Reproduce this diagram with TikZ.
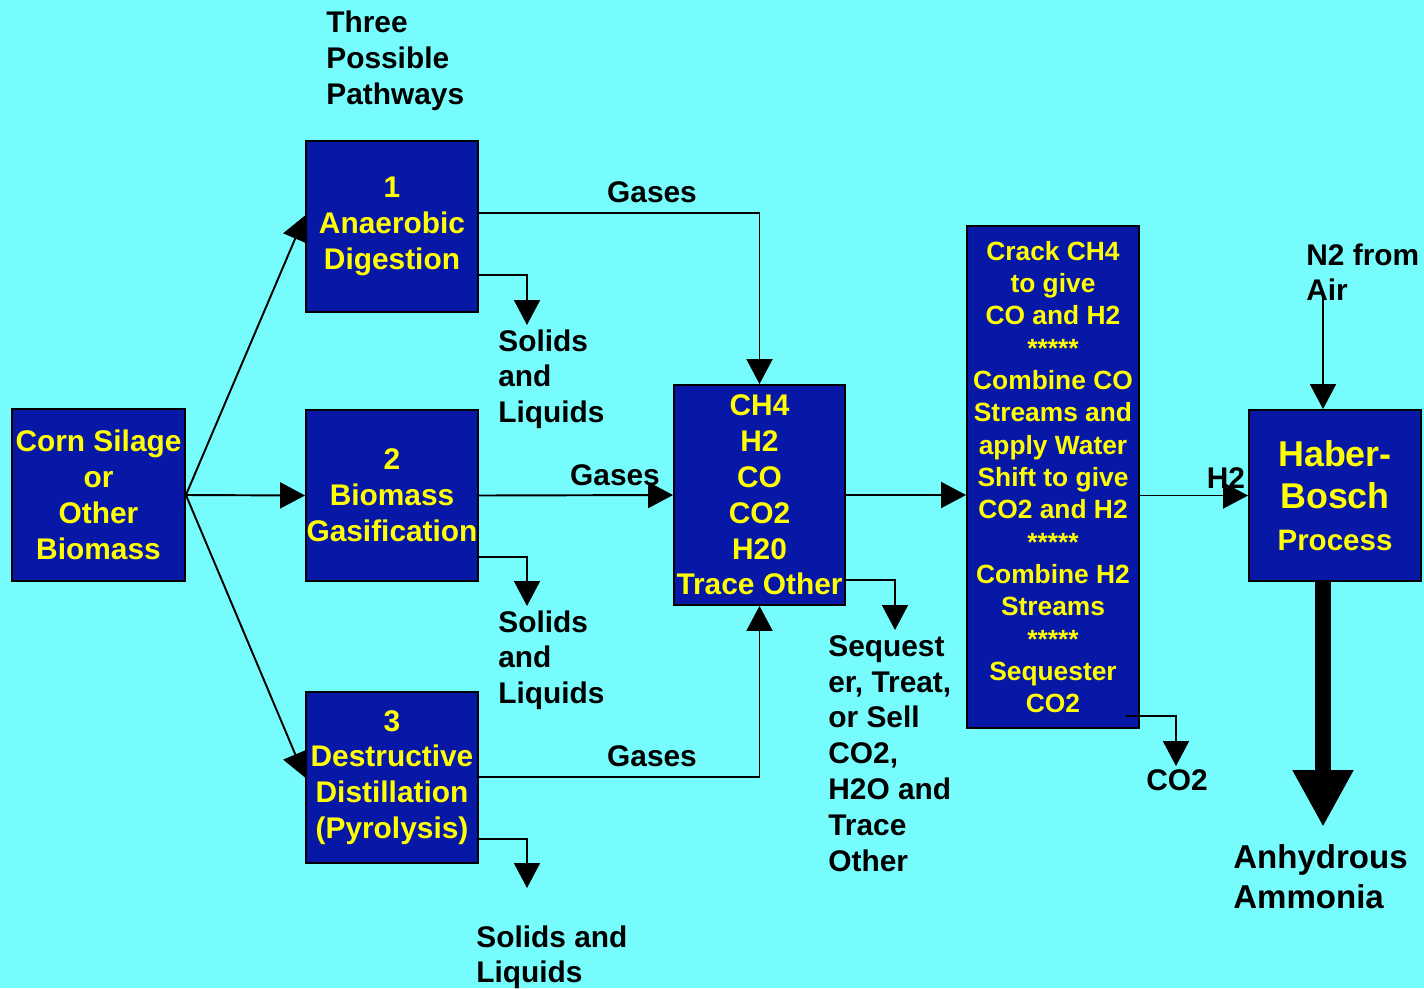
\documentclass[tikz,border=0pt]{standalone}
\usepackage{fontspec}
\setmainfont{Liberation Sans}
\usetikzlibrary{arrows.meta,calc}
\definecolor{bgcyan}{RGB}{118,252,252}
\definecolor{boxblue}{RGB}{8,24,166}
\definecolor{boxtext}{RGB}{255,255,0}
\tikzset{
	stage/.style={draw=black, line width=1.1pt, fill=boxblue, text=boxtext, align=center, inner sep=0pt,
		font=\bfseries\fontsize{17}{20.4}\selectfont, minimum width=3.44cm, minimum height=3.42cm},
	lbl/.style={font=\bfseries\fontsize{17}{20.4}\selectfont, align=left, inner sep=0pt, anchor=north west},
	flow/.style={line width=1.1pt, -{Triangle[length=0.5cm,width=0.52cm]}},
	bigflow/.style={line width=0.32cm, -{Triangle[length=1.14cm,width=1.14cm]}},
}

\begin{document}
\begin{tikzpicture}[x=0.02cm, y=-0.02cm]
		%%%%% START %%%%%
		
		\fill[bgcyan] (0, 0) rectangle (1424, 988);
		\useasboundingbox (0, 0) rectangle (1424, 988);
		
		\node[stage, minimum width=3.46cm, minimum height=3.44cm] (corn) at (98.5, 495) {Corn Silage\\or\\Other\\Biomass};
		\node[stage] (anaer) at (392, 226.5) {1\\Anaerobic\\Digestion};
		\node[stage] (gasif) at (392, 495.5) {2\\Biomass\\Gasification};
		\node[stage] (pyro) at (392, 777.5) {3\\Destructive\\Distillation\\(Pyrolysis)};
		\node[stage, minimum width=3.42cm, minimum height=4.4cm] (mix) at (759.5, 495) {CH4\\H2\\CO\\CO2\\H20\\Trace Other};
		\node[stage, minimum height=10.04cm, font=\bfseries\fontsize{15}{18.4}\selectfont] (crack) at (1053, 477)
			{Crack CH4\\to give\\CO and H2\\*****\\Combine CO\\Streams and\\apply Water\\Shift to give\\CO2 and H2\\*****\\Combine H2\\Streams\\*****\\Sequester\\CO2};
		\node[stage, font=\bfseries\fontsize{20.4}{24}\selectfont] (haber) at (1335, 495.5)
			{Haber-\\Bosch\\{\fontsize{16.8}{20}\selectfont Process}};
		
		\node[lbl] (three) at (326, 11) {Three\\Possible\\Pathways};
		\node[lbl, anchor=center] (gas1) at (652, 192) {Gases};
		\node[lbl, anchor=center] (gas2) at (615, 475) {Gases};
		\node[lbl, anchor=center] (gas3) at (652, 756) {Gases};
		\node[lbl] (sol1) at (498, 329) {Solids\\and\\Liquids};
		\node[lbl] (sol2) at (498, 610) {Solids\\and\\Liquids};
		\node[lbl] (sol3) at (476, 925) {Solids and\\Liquids};
		\node[lbl] (seq) at (828, 635) {Sequest\\er, Treat,\\or Sell\\CO2,\\H2O and\\Trace\\Other};
		\node[lbl] (ntwo) at (1306, 243) {N2 from\\Air};
		\node[lbl, anchor=center] (htwo) at (1226, 478) {H2};
		\node[lbl, anchor=center] (cotwo) at (1177, 780) {CO2};
		\node[lbl, font=\bfseries\fontsize{18.8}{22.7}\selectfont] (ammo) at (1233, 844) {Anhydrous\\Ammonia};
		
		\coordinate (s1) at (527, 325);
		\coordinate (s2) at (527, 606);
		\coordinate (s3) at (527, 888);
		\coordinate (tr) at (895, 630);
		\coordinate (c0) at (1126, 716);
		\coordinate (c1) at (1176, 766);
		\coordinate (n0) at (1323, 298);
		\coordinate (am) at (1323, 827);
		
		\draw[flow] (corn.east) -- ($(anaer.west)+(0, -11)$);
		\draw[flow] (corn.east) -- (gasif.west);
		\draw[flow] (corn.east) -- (pyro.west);
		
		\draw[flow] ($(anaer.east)+(0, -13.5)$) -| (mix.north);
		\draw[flow] ($(anaer.east)+(0, 48.5)$) -| (s1);
		\draw[flow] (gasif.east) -- (mix.west);
		\draw[flow] ($(gasif.east)+(0, 61.5)$) -| (s2);
		\draw[flow] ($(pyro.east)+(0, -0.5)$) -| (mix.south);
		\draw[flow] ($(pyro.east)+(0, 61.5)$) -| (s3);
		
		\draw[flow] (mix.east) -- (mix.east -| crack.west);
		\draw[flow] ($(mix.east)+(0, 85)$) -| (tr);
		\draw[flow] (crack.east |- haber.west) -- (haber.west);
		\draw[flow] (c0) -| (c1);
		\draw[flow] (n0) -- (n0 |- haber.north);
		\draw[bigflow] (n0 |- haber.south) -- (am);
		
		%%%%% END %%%%%
	\end{tikzpicture}
\end{document}
